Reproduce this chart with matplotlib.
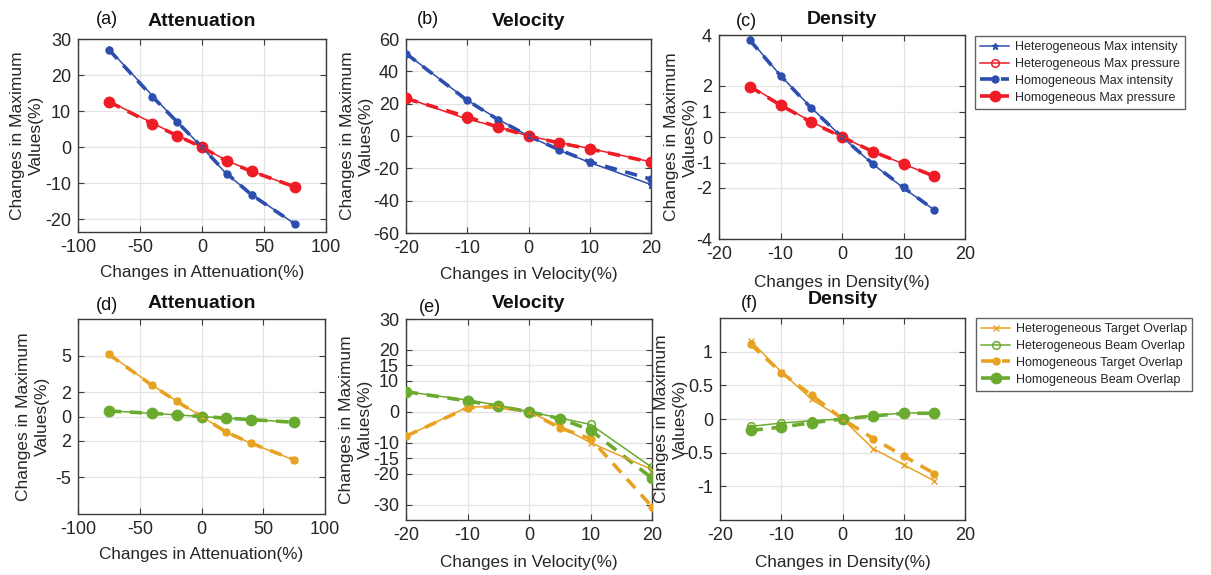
import matplotlib
matplotlib.use("Agg")
import matplotlib.pyplot as plt

plt.rcParams['font.family'] = ['Liberation Sans', 'DejaVu Sans']
plt.rcParams['axes.unicode_minus'] = False

# ---------------- data ----------------
x_att = [-75, -40, -20, 0, 20, 40, 75]
x_vel = [-20, -10, -5, 0, 5, 10, 20]
x_den = [-15, -10, -5, 0, 5, 10, 15]

# (a) Attenuation
a_het_int = [27.2, 14.3, 7.1, 0, -7.5, -13.0, -21.3]
a_het_pre = [12.8, 6.7, 3.3, 0, -3.7, -6.6, -11.1]
a_hom_int = [27.0, 14.0, 7.0, 0, -7.3, -13.2, -21.3]
a_hom_pre = [12.6, 6.5, 3.2, 0, -3.9, -6.7, -11.0]
# (b) Velocity
b_het_int = [51.1, 22.2, 10.4, 0, -8.8, -16.4, -30.0]
b_het_pre = [23.6, 10.4, 5.7, 0, -4.0, -7.7, -16.0]
b_hom_int = [51.0, 22.0, 10.2, 0, -8.5, -16.0, -26.7]
b_hom_pre = [23.2, 11.9, 5.5, 0, -4.3, -8.0, -16.2]
# (c) Density
c_het_int = [3.83, 2.41, 1.15, 0, -1.06, -2.0, -2.86]
c_het_pre = [2.01, 1.28, 0.60, 0, -0.56, -1.06, -1.55]
c_hom_int = [3.80, 2.40, 1.13, 0, -1.05, -1.98, -2.86]
c_hom_pre = [1.98, 1.25, 0.58, 0, -0.57, -1.05, -1.54]
# (d) Attenuation
d_het_tgt = [5.14, 2.58, 1.26, 0, -1.26, -2.2, -3.57]
d_het_bm = [0.47, 0.25, 0.14, 0, -0.14, -0.25, -0.47]
d_hom_tgt = [5.10, 2.55, 1.24, 0, -1.28, -2.18, -3.55]
d_hom_bm = [0.45, 0.26, 0.13, 0, -0.13, -0.26, -0.47]
# (e) Velocity
e_het_tgt = [-7.9, 1.5, 1.8, 0, -4.7, -10.0, -18.7]
e_het_bm = [6.5, 3.8, 2.1, 0, -2.0, -4.1, -18.0]
e_hom_tgt = [-7.9, 1.3, 1.6, 0, -5.2, -8.7, -30.7]
e_hom_bm = [6.5, 3.5, 1.8, 0, -2.2, -5.9, -21.5]
# (f) Density
f_het_tgt = [1.16, 0.70, 0.29, 0, -0.44, -0.68, -0.92]
f_het_bm = [-0.11, -0.06, -0.025, 0, 0.05, 0.09, 0.09]
f_hom_tgt = [1.11, 0.69, 0.35, 0, -0.29, -0.55, -0.81]
f_hom_bm = [-0.17, -0.12, -0.055, 0, 0.045, 0.085, 0.085]

titles = ['Attenuation', 'Velocity', 'Density', 'Attenuation', 'Velocity', 'Density']
tags = ['(a)', '(b)', '(c)', '(d)', '(e)', '(f)']
xlabels = ['Changes in Attenuation(%)', 'Changes in Velocity(%)', 'Changes in Density(%)'] * 2
ylabel = 'Changes in Maximum\nValues(%)'

top_labels = ['Heterogeneous Max intensity', 'Heterogeneous Max pressure',
              'Homogeneous Max intensity', 'Homogeneous Max pressure']
bot_labels = ['Heterogeneous Target Overlap', 'Heterogeneous Beam Overlap',
              'Homogeneous Target Overlap', 'Homogeneous Beam Overlap']

xticks_att = [-100, -50, 0, 50, 100]
xticks_20 = [-20, -10, 0, 10, 20]
yticks = [
    [-20, -10, 0, 10, 20, 30],
    [-60, -40, -20, 0, 20, 40, 60],
    [-4, -2, -1, 0, 1, 2, 4],
    [-5, -2, 0, 2, 5],
    [-30, -20, -15, -10, 0, 10, 15, 20, 30],
    [-1, -0.5, 0, 0.5, 1],
]
yticklabels = [
    None, None,
    ['-4', '-2', '-1', '0', '1', '2', '4'],
    ['-5', '2', '0', '2', '5'],
    None,
    ['-1', '-0.5', '0', '0.5', '1'],
]
ylims = [(-23.5, 30), (-60, 60), (-4, 4), (-8, 8), (-35, 30), (-1.5, 1.5)]
xlims = [(-100, 100), (-20, 20), (-20, 20)] * 2

BLUE = '#2c4eae'
RED = '#ee1c24'
ORANGE = '#e8a221'
GREEN = '#6aab2f'
TXT = '#262626'

W, H = 1211, 575
fig = plt.figure(figsize=(W / 100, H / 100), dpi=100)

# pixel boxes: left, right, top, bottom
boxes = [(78, 326, 39, 232), (406, 651, 39, 233), (719, 965, 35, 239),
         (78, 325, 319, 514), (406, 652, 319, 520), (720, 965, 318, 520)]
ylab_off = [51, 49, 38, 45, 50, 49]
xlab_off = [40, 42, 43, 41, 42, 43]
tag_px = [(107, 20), (428, 20), (746, 22), (107, 305), (430, 307), (749, 303)]
title_y = [22, 22, 19, 303, 303, 300]

axes = []
for i, (l, r, t, b) in enumerate(boxes):
    ax = fig.add_axes([l / W, 1 - b / H, (r - l) / W, (b - t) / H])
    axes.append(ax)

datasets = [
    (x_att, a_het_int, a_het_pre, a_hom_int, a_hom_pre),
    (x_vel, b_het_int, b_het_pre, b_hom_int, b_hom_pre),
    (x_den, c_het_int, c_het_pre, c_hom_int, c_hom_pre),
    (x_att, d_het_tgt, d_het_bm, d_hom_tgt, d_hom_bm),
    (x_vel, e_het_tgt, e_het_bm, e_hom_tgt, e_hom_bm),
    (x_den, f_het_tgt, f_het_bm, f_hom_tgt, f_hom_bm),
]

dash = (3.4, 2.4)
for i, ax in enumerate(axes):
    xs, h1, h2, m1, m2 = datasets[i]
    c1, c2 = (BLUE, RED) if i < 3 else (ORANGE, GREEN)
    labs = top_labels if i < 3 else bot_labels
    mk1 = '*' if i < 3 else 'x'
    ax.plot(xs, h1, color=c1, lw=1.1, marker=mk1, ms=5, mew=1.0, label=labs[0], zorder=4)
    ax.plot(xs, h2, color=c2, lw=1.1, marker='o', ms=5.5, mfc='none', mew=1.1,
            label=labs[1], zorder=4)
    ax.plot(xs, m1, color=c1, lw=2.6, ls=(0, dash), marker='.', ms=10, label=labs[2], zorder=3)
    ax.plot(xs, m2, color=c2, lw=2.6, ls=(0, dash), marker='.', ms=15, label=labs[3], zorder=3)

    ax.set_xlim(*xlims[i])
    ax.set_ylim(*ylims[i])
    ax.set_xticks(xticks_att if i % 3 == 0 else xticks_20)
    ax.set_yticks(yticks[i])
    if yticklabels[i] is not None:
        ax.set_yticklabels(yticklabels[i])
    ax.grid(True, color='#e3e3e3', lw=0.9)
    ax.set_axisbelow(True)
    for s in ax.spines.values():
        s.set_color('#3a3a3a')
        s.set_linewidth(1.0)
    ax.tick_params(direction='in', length=4, width=0.8, colors='#3a3a3a',
                   labelcolor=TXT, labelsize=13, top=True, right=True, pad=5)
    l, r, t, b = boxes[i]
    ax.set_xlabel(xlabels[i], fontsize=12.3, color=TXT, va='center')
    ax.xaxis.set_label_coords(0.5, -xlab_off[i] / (b - t))
    ax.set_ylabel(ylabel, fontsize=12.5, color=TXT, linespacing=1.3, va='center')
    ax.yaxis.set_label_coords(-ylab_off[i] / (r - l), 0.5)
    fig.text((l + r) / 2 / W, 1 - title_y[i] / H, titles[i], ha='center',
             va='center', fontsize=14, fontweight='bold', color='#111111')
    tx, ty = tag_px[i]
    fig.text(tx / W, 1 - ty / H, tags[i], ha='center', va='center', fontsize=13, color='#111111')

for ax, (lx, ly) in ((axes[2], (975, 36)), (axes[5], (976, 318))):
    leg = ax.legend(loc='upper left', bbox_to_anchor=(lx / W, 1 - ly / H),
                    bbox_transform=fig.transFigure, borderaxespad=0, fontsize=9,
                    frameon=True, fancybox=False, handlelength=2.3, handletextpad=0.45,
                    labelspacing=0.38, borderpad=0.42)
    leg.get_frame().set_edgecolor('#3a3a3a')
    leg.get_frame().set_linewidth(1.0)
    for t in leg.get_texts():
        t.set_color(TXT)

fig.savefig('out.png', dpi=100)
